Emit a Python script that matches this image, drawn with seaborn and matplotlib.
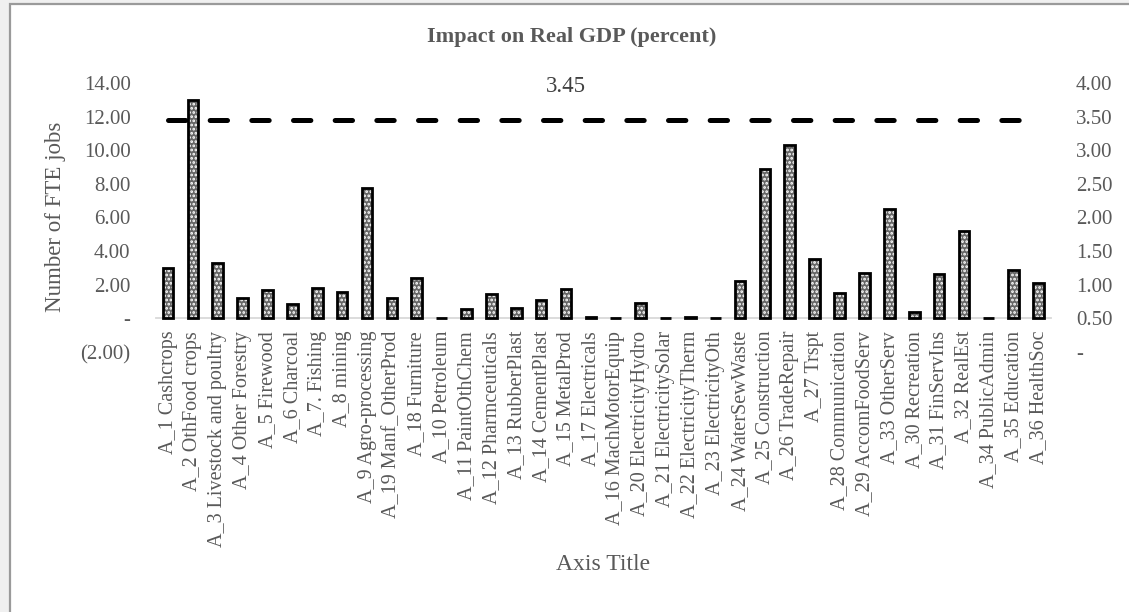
import numpy as np
import pandas as pd
import matplotlib
matplotlib.use("Agg")
import matplotlib.pyplot as plt
from matplotlib.patches import Rectangle
from matplotlib.ticker import FixedLocator, FuncFormatter
import seaborn as sns

# Sector labels in chart order
sectors = [
    "A_1 Cashcrops", "A_2 OthFood crops", "A_3 Livestock and poultry",
    "A_4 Other Forestry", "A_5 Firewood", "A_6 Charcoal", "A_7. Fishing",
    "A_8 mining", "A_9 Agro-processing", "A_19 Manf_OtherProd",
    "A_18 Furniture", "A_10 Petroleum", "A_11 PaintOthChem",
    "A_12 Pharmceuticals", "A_13 RubberPlast", "A_14 CementPlast",
    "A_15 MetalProd", "A_17 Electricals", "A_16 MachMotorEquip",
    "A_20 ElectricityHydro", "A_21 ElectricitySolar", "A_22 ElectricityTherm",
    "A_23 ElectricityOth", "A_24 WaterSewWaste", "A_25 Construction",
    "A_26 TradeRepair", "A_27 Trspt", "A_28 Communication",
    "A_29 AccomFoodServ", "A_33 OtherServ", "A_30 Recreation",
    "A_31 FinServIns", "A_32 RealEst", "A_34 PublicAdmin",
    "A_35 Education", "A_36 HealthSoc",
]

# Number of FTE jobs per sector (left axis)
fte_jobs = [
    3.02, 12.98, 3.32, 1.21, 1.67, 0.83, 1.83, 1.57, 7.74, 1.19,
    2.38, 0.03, 0.57, 1.46, 0.63, 1.09, 1.76, 0.08, 0.05, 0.93,
    0.01, 0.08, 0.05, 2.20, 8.87, 10.30, 3.51, 1.51, 2.72, 6.49,
    0.36, 2.66, 5.22, 0.00, 2.90, 2.10,
]

# Impact on real GDP, percent (right axis)
gdp_impact = 3.45
label_index = 16

left_ticks = [-2, 0, 2, 4, 6, 8, 10, 12, 14]
right_ticks = [0, 0.5, 1.0, 1.5, 2.0, 2.5, 3.0, 3.5, 4.0]

TEXT = "#595959"
W, H = 1129, 612

sns.set_theme(style="white")
plt.rcParams["font.family"] = ["Liberation Serif", "DejaVu Serif"]
plt.rcParams["hatch.linewidth"] = 1.3
plt.rcParams["lines.scale_dashes"] = False


def acct(v, pos=None):
    if abs(v) < 1e-9:
        return "-"
    if v < 0:
        return "({:.2f})".format(abs(v))
    return "{:.2f}".format(v)


fig = plt.figure(figsize=(W / 100, H / 100), dpi=100, facecolor="#f0f0f0")
fig.patches.append(Rectangle((9.5 / W, -0.05), 1.2, 1 - 3.5 / H + 0.05,
                             transform=fig.transFigure, facecolor="white",
                             edgecolor="#9a9a9a", linewidth=1.6, zorder=-5))

ax = fig.add_axes([155.6 / W, 1 - 352 / H, (1051 - 155.6) / W, (352 - 83) / H])
ax.patch.set_alpha(0)

df = pd.DataFrame({"sector": sectors, "jobs": fte_jobs})
# dotted fill layer
sns.barplot(data=df, x="sector", y="jobs", ax=ax, color="#4d4d4d",
            width=0.43, saturation=1, errorbar=None)
# outline layer
sns.barplot(data=df, x="sector", y="jobs", ax=ax, color="#4d4d4d",
            width=0.43, saturation=1, errorbar=None)
n = len(sectors)
for p in ax.patches[:n]:
    p.set_facecolor("#666666")
    p.set_edgecolor("white")
    p.set_hatch("....")
    p.set_linewidth(0)
    p.set_zorder(2)
for p in ax.patches[n:2 * n]:
    p.set_facecolor("none")
    p.set_edgecolor("black")
    p.set_linewidth(2.0)
    p.set_zorder(3)

ax.set_ylim(-2, 14)
ax.set_xlim(-0.5, n - 0.5)
ax.yaxis.set_major_locator(FixedLocator(left_ticks))
ax.yaxis.set_major_formatter(FuncFormatter(acct))
for s in ["top", "right", "left"]:
    ax.spines[s].set_visible(False)
ax.spines["bottom"].set_position(("data", 0))
ax.spines["bottom"].set_color("#d9d9d9")
ax.spines["bottom"].set_linewidth(1.3)
ax.spines["bottom"].set_zorder(1)
ax.set_xlabel("")
ax.set_ylabel("")
ax.tick_params(axis="x", length=0, pad=9, labelsize=14.5, labelcolor=TEXT,
               labelrotation=90)
ax.tick_params(axis="y", length=0, pad=18, labelsize=15, labelcolor=TEXT)
ax.grid(False)

ax2 = ax.twinx()
line_df = pd.DataFrame({"idx": np.arange(n), "impact": [gdp_impact] * n})
sns.lineplot(data=line_df, x="idx", y="impact", ax=ax2, color="black",
             linewidth=3.6, linestyle=(0, (12.5, 17.5)))
for ln in ax2.lines:
    ln.set_dash_capstyle("round")
ax2.set_ylim(0, 4)
ax2.set_xlim(-0.5, n - 0.5)
ax2.yaxis.set_major_locator(FixedLocator(right_ticks))
ax2.yaxis.set_major_formatter(FuncFormatter(acct))
for s in ax2.spines.values():
    s.set_visible(False)
ax2.set_xlabel("")
ax2.set_ylabel("")
ax2.tick_params(axis="y", length=0, pad=18, labelsize=15, labelcolor=TEXT)
ax2.grid(False)
ax2.annotate(acct(gdp_impact), xy=(label_index, gdp_impact),
             xytext=(0, 24), textcoords="offset points",
             ha="center", va="center", fontsize=16.5, color="#404040")

fig.text(572 / W, 1 - 37 / H, "Impact on Real GDP (percent)", ha="center",
         va="center", fontsize=16, fontweight="bold", color=TEXT)
fig.text(55 / W, 1 - 217 / H, "Number of FTE jobs", ha="center",
         va="center", rotation=90, fontsize=16.5, color=TEXT)
fig.text(603 / W, 1 - 565 / H, "Axis Title", ha="center", va="center",
         fontsize=17, color=TEXT)

fig.savefig("out.png", dpi=100, facecolor=fig.get_facecolor())
